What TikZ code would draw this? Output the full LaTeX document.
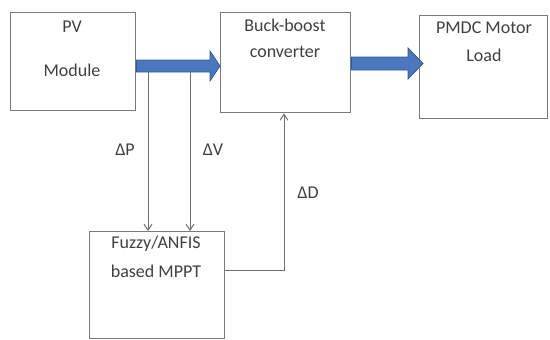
\documentclass[tikz,border=0pt]{standalone}
\usepackage{fontspec}
\setmainfont{Carlito}
\usetikzlibrary{arrows.meta}
\definecolor{boxgray}{HTML}{7A7A7A}
\definecolor{linegray}{HTML}{6E6E6E}
\definecolor{arrowblue}{HTML}{4A78BD}
\definecolor{arrowedge}{HTML}{2F5A98}
\definecolor{txt}{HTML}{404040}
\tikzset{
  blk/.style={draw=boxgray, line width=1.4pt, fill=white},
  lbl/.style={text=txt, font=\fontsize{18}{20}\selectfont, inner sep=0pt},
  sig/.style={draw=linegray, line width=1pt, -{Straight Barb[length=6pt,width=8pt]}},
  fat/.style={draw=arrowedge, line width=0.8pt, fill=arrowblue},
}
\begin{document}
\begin{tikzpicture}[x=1pt,y=-1pt]
\useasboundingbox (0,0) rectangle (550,340);
% boxes
\node[blk, minimum width=125pt, minimum height=98pt, anchor=north west] (pv) at (10,12) {};
\node[blk, minimum width=130pt, minimum height=100pt, anchor=north west] (bb) at (220,12) {};
\node[blk, minimum width=128pt, minimum height=103pt, anchor=north west] (pm) at (419,15) {};
\node[blk, minimum width=135pt, minimum height=107pt, anchor=north west] (fz) at (89,231) {};
% texts
\node[lbl] (t1) at (72,27) {PV};
\node[lbl] (t2) at (72,70) {Module};
\node[lbl] (t3) at (285,25) {Buck-boost};
\node[lbl] (t4) at (285,52) {converter};
\node[lbl] (t5) at (484,28) {PMDC Motor};
\node[lbl] (t6) at (484,55) {Load};
\node[lbl] (t7) at (156,244) {Fuzzy/ANFIS};
\node[lbl] (t8) at (156,271) {based MPPT};
\node[lbl] (dp) at (125,150) {ΔP};
\node[lbl] (dv) at (213,150) {ΔV};
\node[lbl] (dd) at (308,193) {ΔD};
% thick arrows
\draw[fat] (pv.east |- 0,60) -- (210,60) -- (210,51) -- (bb.west |- 0,66) -- (210,81) -- (210,72) -- (pv.east |- 0,72) -- cycle;
\draw[fat] (bb.east |- 0,57) -- (408,57) -- (408,48) -- (423,63.5) -- (408,79) -- (408,70) -- (bb.east |- 0,70) -- cycle;
% signal lines
\coordinate (p1) at (148,72);
\coordinate (p2) at (190,72);
\draw[sig] (p1) -- (p1 |- fz.north);
\draw[sig] (p2) -- (p2 |- fz.north);
\coordinate (c1) at (284,270);
\draw[sig] (fz.east |- c1) -- (c1) -- (c1 |- bb.south);
\end{tikzpicture}
\end{document}
